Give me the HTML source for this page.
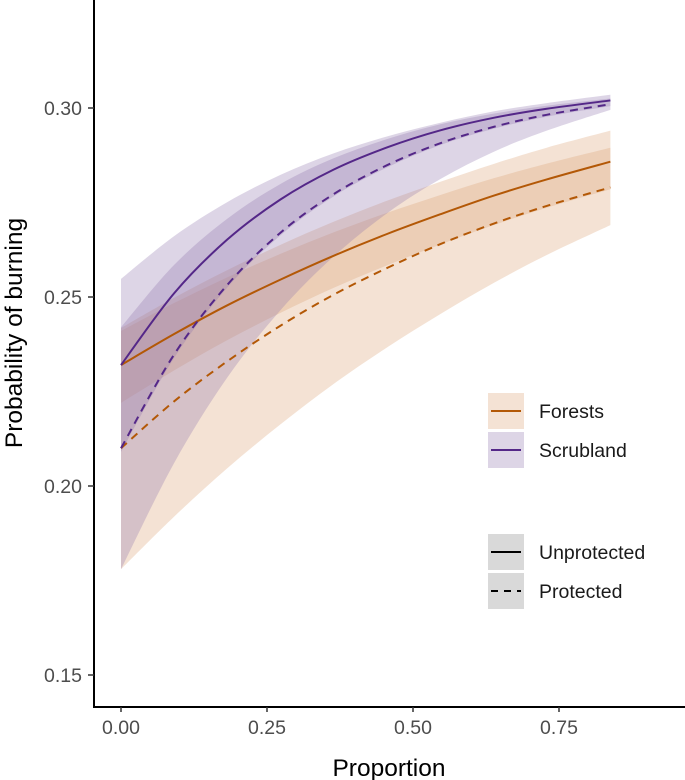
<!DOCTYPE html>
<html><head><meta charset="utf-8"><style>
body{margin:0;background:#fff;}
svg{display:block;font-family:"Liberation Sans",Arial,sans-serif;}
</style></head><body>
<svg id="chart" width="685" height="780" viewBox="0 0 685 780">
<g id="ribbons"></g>
<g id="lines"></g>
<g id="axes"></g>
<g>
  <g>
    <rect x="488" y="393" width="36" height="36" fill="#d9a070" fill-opacity="0.3"/>
    <line x1="491" y1="411" x2="521" y2="411" stroke="#b35806" stroke-width="2"/>
    <text x="539" y="418" font-size="19.5" fill="#1a1a1a">Forests</text>
  </g>
  <g>
    <rect x="488" y="432" width="36" height="36" fill="#8e73ac" fill-opacity="0.3"/>
    <line x1="491" y1="450" x2="521" y2="450" stroke="#542788" stroke-width="2"/>
    <text x="539" y="457" font-size="19.5" fill="#1a1a1a">Scrubland</text>
  </g>
</g>
<g>
  <g>
    <rect x="488" y="534" width="36" height="36" fill="#d9d9d9"/>
    <line x1="491" y1="552" x2="521" y2="552" stroke="#000" stroke-width="2"/>
    <text x="539" y="559" font-size="19.5" fill="#1a1a1a">Unprotected</text>
  </g>
  <g>
    <rect x="488" y="573" width="36" height="36" fill="#d9d9d9"/>
    <line x1="491" y1="591" x2="521" y2="591" stroke="#000" stroke-width="2" stroke-dasharray="7,6"/>
    <text x="539" y="598" font-size="19.5" fill="#1a1a1a">Protected</text>
  </g>
</g>
<text x="389" y="776" font-size="24.5" text-anchor="middle" fill="#000">Proportion</text>
<text transform="translate(22,333) rotate(-90)" font-size="24.5" text-anchor="middle" fill="#000">Probability of burning</text>
</svg>
<script>
const xs = [0, 0.091, 0.182, 0.273, 0.364, 0.456, 0.547, 0.638, 0.729, 0.838];
const suMean = [.232,.2510,.2652,.2758,.2837,.2896,.2941,.2974,.2998,.302];
const suHi = [.2548,.2661,.2751,.2823,.2880,.2925,.2961,.2991,.3013,.3035];
const suLo = [.209,.2339,.2525,.2663,.2766,.2843,.2902,.2945,.2977,.3005];
const spMean = [.210,.2348,.2532,.2670,.2772,.2849,.2907,.2950,.2982,.301];
const spHi = [.242,.2585,.2707,.2799,.2867,.2918,.2957,.2985,.3006,.3025];
const spLo = [.178,.2061,.2287,.2465,.2607,.2722,.2812,.2884,.2940,.2995];
const fuMean = [.232,.2402,.2478,.2546,.2609,.2667,.2719,.2768,.2811,.2858];
const fuHi = [.2418,.2498,.2571,.2638,.2699,.2755,.2805,.2852,.2895,.294];
const fuLo = [.222,.2306,.2386,.2458,.2524,.2584,.2639,.2690,.2736,.2785];
const fpMean = [.210,.2224,.2330,.2424,.2506,.2577,.2640,.2694,.2741,.279];
const fpHi = [.241,.2484,.2552,.2614,.2671,.2723,.2770,.2814,.2853,.2895];
const fpLo = [.178,.1919,.2047,.2163,.2270,.2367,.2455,.2537,.2611,.269];
const xTicks = [0, 0.25, 0.5, 0.75];
const xTickLabels = ["0.00","0.25","0.50","0.75"];
const yTicks = [0.15, 0.20, 0.25, 0.30];
const yTickLabels = ["0.15","0.20","0.25","0.30"];

const NS = "http://www.w3.org/2000/svg";
function sx(v){ return 121 + v * 584; }
function sy(v){ return 108 + (0.30 - v) * 3780; }
function pts(ys){ return xs.map((x,i)=>[sx(x), sy(ys[i])]); }
function curve(p, move){
  let d = (move ? "M" : "L") + p[0][0].toFixed(2) + "," + p[0][1].toFixed(2);
  for (let i=0;i<p.length-1;i++){
    const p0=p[Math.max(i-1,0)], p1=p[i], p2=p[i+1], p3=p[Math.min(i+2,p.length-1)];
    const c1=[p1[0]+(p2[0]-p0[0])/6, p1[1]+(p2[1]-p0[1])/6];
    const c2=[p2[0]-(p3[0]-p1[0])/6, p2[1]-(p3[1]-p1[1])/6];
    d += "C"+c1[0].toFixed(2)+","+c1[1].toFixed(2)+" "+c2[0].toFixed(2)+","+c2[1].toFixed(2)+" "+p2[0].toFixed(2)+","+p2[1].toFixed(2);
  }
  return d;
}
const rib = document.getElementById("ribbons");
const ln = document.getElementById("lines");
const ax = document.getElementById("axes");
function ribbon(hi, lo, color, name){
  const p = document.createElementNS(NS,"path");
  p.setAttribute("d", curve(pts(hi), true) + curve(pts(lo).reverse(), false) + "Z");
  p.setAttribute("fill", color);
  p.setAttribute("fill-opacity", "0.3");
  
  
  rib.appendChild(p);
}
function line(ys, color, dashed, name){
  const p = document.createElementNS(NS,"path");
  p.setAttribute("d", curve(pts(ys), true));
  p.setAttribute("fill", "none");
  p.setAttribute("stroke", color);
  p.setAttribute("stroke-width", "2");
  if (dashed) p.setAttribute("stroke-dasharray", "8,6");
  
  
  ln.appendChild(p);
}
ribbon(fuHi, fuLo, "#d9a070", "forest-unprotected-ribbon");
ribbon(fpHi, fpLo, "#d9a070", "forest-protected-ribbon");
ribbon(suHi, suLo, "#8e73ac", "scrubland-unprotected-ribbon");
ribbon(spHi, spLo, "#8e73ac", "scrubland-protected-ribbon");
line(fuMean, "#b35806", false, "forest-unprotected-line");
line(fpMean, "#b35806", true, "forest-protected-line");
line(suMean, "#542788", false, "scrubland-unprotected-line");
line(spMean, "#542788", true, "scrubland-protected-line");

function mk(tag, attrs){ const e=document.createElementNS(NS,tag); for(const k in attrs) e.setAttribute(k, attrs[k]); ax.appendChild(e); return e; }
const yAxis = mk("line",{x1:94,y1:0,x2:94,y2:708,stroke:"#000","stroke-width":2});


const xAxis = mk("line",{x1:93,y1:707,x2:685,y2:707,stroke:"#000","stroke-width":2});


xTicks.forEach((v,i)=>{
  const t = mk("line",{x1:sx(v),y1:707,x2:sx(v),y2:712,stroke:"#333","stroke-width":1.5});
  
  
  const l = mk("text",{x:sx(v),y:734,"font-size":19.5,"text-anchor":"middle",fill:"#4d4d4d"});
  l.textContent = xTickLabels[i];
  
  
});
yTicks.forEach((v,i)=>{
  const t = mk("line",{x1:88,y1:sy(v),x2:94,y2:sy(v),stroke:"#333","stroke-width":1.5});
  
  
  const l = mk("text",{x:82,y:sy(v)+7,"font-size":19.5,"text-anchor":"end",fill:"#4d4d4d"});
  l.textContent = yTickLabels[i];
  
  
});
</script>
</body></html>
